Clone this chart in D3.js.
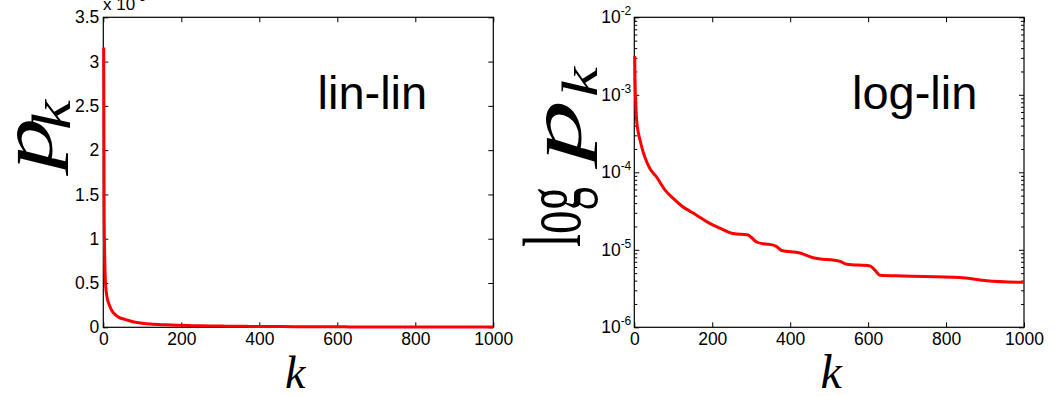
<!DOCTYPE html>
<html>
<head>
<meta charset="utf-8">
<script src="https://cdn.jsdelivr.net/npm/d3@7"></script>
<style>
  html, body { margin: 0; padding: 0; background: #fff; }
  svg { display: block; }
  .tick text { font-family: "Liberation Sans", Arial, sans-serif; font-size: 17.5px; fill: #000; }
</style>
</head>
<body>
<svg id="chart" width="1061" height="396"></svg>
<script>
// ---- data ----
const kRank = [1, 2, 3, 4, 6, 10, 15, 20, 27, 40, 57, 79, 100, 121, 160, 190, 220, 254, 292, 300, 314, 330, 357, 365, 372, 378, 425, 459, 528, 545, 605, 617, 630, 690, 835, 904, 1000];
const pk = [3.16e-3, 1.41e-3, 9.5e-4, 7.1e-4, 4.7e-4, 3.3e-4, 2.57e-4, 2.04e-4, 1.58e-4, 1.12e-4, 8.7e-5, 5.9e-5, 4.6e-5, 3.7e-5, 2.8e-5, 2.24e-5, 1.9e-5, 1.62e-5, 1.55e-5, 1.45e-5, 1.26e-5, 1.2e-5, 1.15e-5, 1.10e-5, 1.03e-5, 9.8e-6, 9.1e-6, 7.9e-6, 7.1e-6, 6.5e-6, 6.2e-6, 5.5e-6, 4.7e-6, 4.6e-6, 4.4e-6, 4.0e-6, 3.8e-6];
const xTicks = [0, 200, 400, 600, 800, 1000];
const yLinTicks = [0, 0.5, 1, 1.5, 2, 2.5, 3, 3.5];   // x 10^-3
const yLogDecades = [-6, -5, -4, -3, -2];
const panelTitles = ["lin-lin", "log-lin"];

const points = kRank.map((k, i) => ({ k: k, p: pk[i] }));
const svg = d3.select("#chart");
const plotTop = 17.3, plotBottom = 327.3;
const serif = "Liberation Serif, Times New Roman, serif";
const sans = "Liberation Sans, Arial, sans-serif";

function frame(g, x, y, yTickVals, minorVals) {
  const [x0, x1] = x.range();
  g.append("rect").attr("x", x0).attr("y", plotTop).attr("width", x1 - x0).attr("height", plotBottom - plotTop)
    .attr("fill", "none").attr("stroke", "#000").attr("stroke-width", 1.2);
  g.append("g").attr("transform", `translate(0,${plotBottom})`)
    .call(d3.axisBottom(x).tickValues(xTicks).tickSize(-5).tickSizeOuter(0).tickPadding(5).tickFormat(d3.format("d")))
    .call(a => a.select(".domain").remove())
    .call(a => a.selectAll(".tick line").attr("stroke", "#000"));
  g.append("g").attr("transform", `translate(0,${plotTop})`)
    .call(d3.axisTop(x).tickValues(xTicks).tickSize(-5).tickSizeOuter(0).tickFormat(""))
    .call(a => a.select(".domain").remove());
  g.append("g").attr("transform", `translate(${x1},0)`)
    .call(d3.axisRight(y).tickValues(yTickVals).tickSize(-5).tickSizeOuter(0).tickFormat(""))
    .call(a => a.select(".domain").remove());
  if (minorVals) {
    g.append("g").attr("transform", `translate(${x1},0)`)
      .call(d3.axisRight(y).tickValues(minorVals).tickSize(-3).tickSizeOuter(0).tickFormat(""))
      .call(a => a.select(".domain").remove());
    g.append("g").attr("transform", `translate(${x0},0)`)
      .call(d3.axisLeft(y).tickValues(minorVals).tickSize(-3).tickSizeOuter(0).tickFormat(""))
      .call(a => a.select(".domain").remove());
  }
}

// rotated label piece: baseline at screen x = bx, starting at screen y = by, reading upward
function vtext(g, bx, by, str, size, len, italic) {
  return g.append("text").attr("transform", `translate(${bx},${by}) rotate(-90)`)
    .attr("font-family", serif).attr("font-style", italic ? "italic" : "normal")
    .attr("font-size", size).attr("textLength", len).attr("lengthAdjust", "spacingAndGlyphs").text(str);
}

// ---------- left panel : lin-lin ----------
const xL = d3.scaleLinear().domain([0, 1000]).range([103.3, 493.3]);
const yL = d3.scaleLinear().domain([0, 3.5e-3]).range([plotBottom, plotTop]);
const gL = svg.append("g");
frame(gL, xL, yL, yLinTicks.map(t => t * 1e-3), null);
gL.append("g").attr("transform", `translate(${xL.range()[0]},0)`)
  .call(d3.axisLeft(yL).tickValues(yLinTicks.map(t => t * 1e-3)).tickSize(-5).tickSizeOuter(0).tickPadding(4)
    .tickFormat((d, i) => String(yLinTicks[i])))
  .call(a => a.select(".domain").remove());
const expNote = gL.append("text").attr("x", 103).attr("y", 10)
  .attr("font-family", sans).attr("font-size", 17);
expNote.append("tspan").text("x 10");
expNote.append("tspan").attr("dy", -9).attr("font-size", 12).text("-3");

gL.append("path").datum(points)
  .attr("fill", "none").attr("stroke", "#ff0000").attr("stroke-width", 3).attr("stroke-linejoin", "round")
  .attr("d", d3.line().x(d => xL(d.k)).y(d => yL(d.p)).curve(d3.curveMonotoneX));

gL.append("text").attr("x", 317.5).attr("y", 109)
  .attr("font-family", sans).attr("font-size", 47).text(panelTitles[0]);

gL.append("text").attr("x", (xL.range()[0] + xL.range()[1]) / 2 - 3).attr("y", 388)
  .attr("text-anchor", "middle").attr("font-family", serif)
  .attr("font-style", "italic").attr("font-size", 46).text("k");

vtext(gL, 52, 170, "p", 74, 52, true);
vtext(gL, 70, 130, "k", 54, 30, true);

// ---------- right panel : log-lin ----------
const xR = d3.scaleLinear().domain([0, 1000]).range([634.3, 1024]);
const yR = d3.scaleLog().domain([1e-6, 1e-2]).range([plotBottom, plotTop]);
const gR = svg.append("g");
const majorVals = yLogDecades.map(e => Math.pow(10, e));
const minorVals = yR.ticks().filter(v => !majorVals.some(m => Math.abs(m - v) / m < 1e-9));
frame(gR, xR, yR, majorVals, minorVals);
gR.append("g").attr("transform", `translate(${xR.range()[0]},0)`)
  .call(d3.axisLeft(yR).tickValues(majorVals).tickSize(-5).tickSizeOuter(0).tickFormat(""))
  .call(a => a.select(".domain").remove());
const lab = gR.append("g").selectAll("text").data(yLogDecades).join("text")
  .attr("x", xR.range()[0] - 3).attr("y", e => yR(Math.pow(10, e)) + 6)
  .attr("text-anchor", "end")
  .attr("font-family", sans).attr("font-size", 17.5);
lab.append("tspan").text("10");
lab.append("tspan").attr("dy", -8).attr("font-size", 12).text(e => String(e));

gR.append("path").datum(points)
  .attr("fill", "none").attr("stroke", "#ff0000").attr("stroke-width", 3).attr("stroke-linejoin", "round")
  .attr("d", d3.line().x(d => xR(d.k)).y(d => yR(d.p)).curve(d3.curveMonotoneX));

gR.append("text").attr("x", 852).attr("y", 109)
  .attr("font-family", sans).attr("font-size", 47).text(panelTitles[1]);

gR.append("text").attr("x", (xR.range()[0] + xR.range()[1]) / 2 + 2).attr("y", 388)
  .attr("text-anchor", "middle").attr("font-family", serif)
  .attr("font-style", "italic").attr("font-size", 48).text("k");

vtext(gR, 580, 247, "log", 83, 60, false);
vtext(gR, 581, 162, "p", 75, 62, true);
vtext(gR, 597, 97, "k", 50, 30, true);
</script>
</body>
</html>
